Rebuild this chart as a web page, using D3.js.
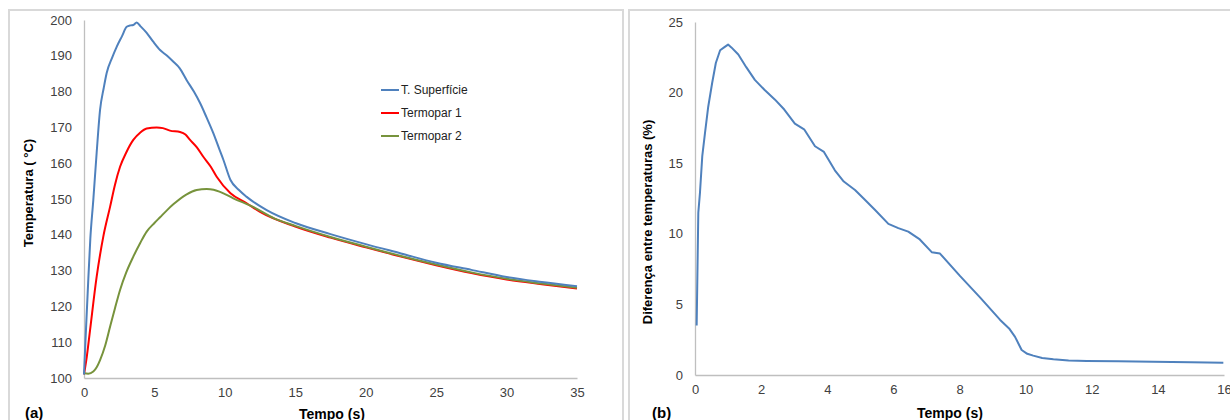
<html lang="pt">
<head>
<title>Temperaturas</title>
<script src="https://d3js.org/d3.v7.min.js" charset="utf-8"></script>
<style>
  body { margin: 0; background: #fff; font-family: "Liberation Sans", Arial, sans-serif; }
  svg { display: block; }
  .tick text { fill: #404040; font-size: 13px; }
  .axisTitle { font-weight: bold; font-size: 13px; fill: #000; }
  .legend text { font-size: 12px; fill: #222; }
</style>
</head>
<body>
<script>
// (a) temperatures
var tSup = [0, 0.1, 0.26, 0.45, 0.66, 0.9, 1.14, 1.4, 1.61, 2.0, 2.32, 2.7, 3.03, 3.3, 3.5, 3.74, 4.0, 4.45, 4.9, 5.4, 5.9, 6.33, 6.8, 7.29, 7.8, 8.24, 8.7, 9.18, 9.6, 9.9, 10.4, 11.0, 11.55, 12.97, 15, 17.5, 20, 22.5, 25, 27.5, 30, 32.5, 35]
var tempSup = [101, 110, 123.7, 139, 149.7, 163, 174.9, 181, 185.2, 189.5, 192.5, 195.5, 198.1, 198.5, 198.6, 199.3, 198.3, 196.4, 194, 191.6, 190, 188.4, 186.5, 183.2, 180, 176.8, 172.8, 168.4, 164, 160.9, 155.3, 152.5, 150.6, 146.9, 143.3, 140.2, 137.4, 134.8, 132.2, 130.2, 128.2, 126.8, 125.6]

var tT1 = [0, 0.2, 0.43, 0.9, 1.37, 1.85, 2.2, 2.56, 3.0, 3.5, 4.0, 4.45, 5.16, 5.6, 6.1, 6.82, 7.2, 7.53, 8.0, 8.47, 9.0, 9.42, 10.4, 11.55, 12.5, 15, 17.5, 20, 22.5, 25, 27.5, 30, 32.5, 35]
var tempT1 = [101, 106, 113.4, 128.3, 139.5, 147.8, 154, 159, 163, 166.5, 168.6, 169.7, 170, 169.8, 169.1, 168.7, 168, 166.5, 164.5, 161.8, 159, 156.2, 151.6, 148.8, 146.4, 142.3, 139.2, 136.5, 133.9, 131.5, 129.3, 127.5, 126.2, 125.0]

var tT2 = [0, 0.3, 0.66, 0.9, 1.14, 1.5, 1.85, 2.2, 2.56, 3.0, 3.5, 4.0, 4.45, 5.0, 5.4, 5.9, 6.34, 7.29, 8.0, 8.71, 9.2, 9.66, 10.6, 12.0, 13.5, 15, 17.5, 20, 22.5, 25, 27.5, 30, 32.5, 35]
var tempT2 = [101.3, 101.2, 101.8, 103, 105, 109, 114.3, 119.5, 124.6, 129.5, 133.9, 137.8, 140.9, 143.3, 144.9, 146.9, 148.5, 151.3, 152.5, 152.8, 152.6, 152, 150.2, 147.8, 144.6, 142.5, 139.4, 136.7, 134.1, 131.7, 129.5, 127.7, 126.4, 125.2]

var seriesNames = ["T. Superfície", "Termopar 1", "Termopar 2"]
var seriesColors = ["#4f81bd", "#ff0000", "#77933c"]
var ticksA_x = [0, 5, 10, 15, 20, 25, 30, 35]
var ticksA_y = [100, 110, 120, 130, 140, 150, 160, 170, 180, 190, 200]

// (b) difference
var tDif = [0.05, 0.1, 0.15, 0.22, 0.3, 0.4, 0.52, 0.63, 0.76, 0.88, 1.0, 1.1, 1.31, 1.55, 1.81, 2.1, 2.42, 2.7, 3.02, 3.3, 3.63, 3.9, 4.23, 4.5, 4.84, 5.1, 5.44, 5.85, 6.15, 6.45, 6.8, 7.16, 7.41, 8.02, 8.62, 9.23, 9.5, 9.68, 9.88, 10.05, 10.23, 10.5, 10.84, 11.3, 11.85, 12.8, 13.86, 15, 15.98]
var dif = [3.5, 11.5, 12.9, 15.5, 17.1, 19.0, 20.7, 22.1, 23.0, 23.2, 23.4, 23.2, 22.7, 21.8, 20.9, 20.2, 19.5, 18.8, 17.8, 17.4, 16.2, 15.8, 14.5, 13.7, 13.1, 12.5, 11.7, 10.7, 10.4, 10.15, 9.6, 8.7, 8.6, 7.0, 5.5, 3.9, 3.3, 2.7, 1.77, 1.5, 1.37, 1.2, 1.11, 1.03, 0.99, 0.97, 0.94, 0.9, 0.87]
var ticksB_x = [0, 2, 4, 6, 8, 10, 12, 14, 16]
var ticksB_y = [0, 5, 10, 15, 20, 25]

var width = 1230, height = 420
var svg = d3.select("body").append("svg").attr("width", width).attr("height", height)

// panel frames
svg.append("rect").attr("x", 9).attr("y", 10).attr("width", 614).attr("height", 430)
  .attr("fill", "none").attr("stroke", "#d9d9d9").attr("stroke-width", 2)
svg.append("rect").attr("x", 629).attr("y", 10).attr("width", 640).attr("height", 430)
  .attr("fill", "none").attr("stroke", "#d9d9d9").attr("stroke-width", 2)

function drawAxes(g, x, y, xt, yt) {
  var xa = g.append("g").attr("transform", "translate(0," + y.range()[0] + ")")
    .call(d3.axisBottom(x).tickValues(xt).tickSize(0).tickPadding(10))
  var ya = g.append("g").attr("transform", "translate(" + x.range()[0] + ",0)")
    .call(d3.axisLeft(y).tickValues(yt).tickSize(0).tickPadding(12))
  xa.select(".domain").attr("stroke", "#bfbfbf").attr("stroke-width", 1.3)
  ya.select(".domain").attr("stroke", "#bfbfbf").attr("stroke-width", 1.3)
  g.selectAll(".tick text").attr("font-family", "Liberation Sans, Arial, sans-serif")
}

// ---- panel (a)
var xA = d3.scaleLinear().domain([0, 35]).range([84, 577])
var yA = d3.scaleLinear().domain([100, 200]).range([378, 20])
var gA = svg.append("g")
drawAxes(gA, xA, yA, ticksA_x, ticksA_y)

var lineA = d3.line().x(function(d){ return xA(d[0]) }).y(function(d){ return yA(d[1]) }).curve(d3.curveMonotoneX)
var seriesA = [d3.zip(tSup, tempSup), d3.zip(tT1, tempT1), d3.zip(tT2, tempT2)]
// red first, then green over it, blue on top
;[1, 2, 0].forEach(function(i){
  gA.append("path").datum(seriesA[i]).attr("d", lineA)
    .attr("fill", "none").attr("stroke", seriesColors[i]).attr("stroke-width", 2)
})

var legend = gA.append("g").attr("class", "legend")
seriesNames.forEach(function(n, i){
  var yy = 90 + i * 23
  legend.append("line").attr("x1", 381).attr("x2", 399).attr("y1", yy).attr("y2", yy)
    .attr("stroke", seriesColors[i]).attr("stroke-width", 2)
  legend.append("text").attr("x", 401).attr("y", yy + 4).text(n)
})

gA.append("text").attr("class", "axisTitle")
  .attr("transform", "translate(33,193) rotate(-90)").attr("text-anchor", "middle")
  .text("Temperatura ( °C)")
gA.append("text").attr("class", "axisTitle").attr("x", 332).attr("y", 419)
  .attr("text-anchor", "middle").style("font-size", "14px").text("Tempo (s)")
gA.append("text").attr("class", "axisTitle").attr("x", 25).attr("y", 418)
  .style("font-size", "15px").text("(a)")

// ---- panel (b)
var xB = d3.scaleLinear().domain([0, 16]).range([695, 1224])
var yB = d3.scaleLinear().domain([0, 25]).range([375, 22])
var gB = svg.append("g")
drawAxes(gB, xB, yB, ticksB_x, ticksB_y)

var lineB = d3.line().x(function(d){ return xB(d[0]) }).y(function(d){ return yB(d[1]) })
gB.append("path").datum(d3.zip(tDif, dif)).attr("d", lineB)
  .attr("fill", "none").attr("stroke", "#4f81bd").attr("stroke-width", 2).attr("stroke-linejoin", "round")

gB.append("text").attr("class", "axisTitle")
  .attr("transform", "translate(652,222) rotate(-90)").attr("text-anchor", "middle")
  .text("Diferença entre temperaturas (%)")
gB.append("text").attr("class", "axisTitle").attr("x", 950).attr("y", 418)
  .attr("text-anchor", "middle").style("font-size", "14px").text("Tempo (s)")
gB.append("text").attr("class", "axisTitle").attr("x", 652).attr("y", 418)
  .style("font-size", "15px").text("(b)")
</script>
</body>
</html>
